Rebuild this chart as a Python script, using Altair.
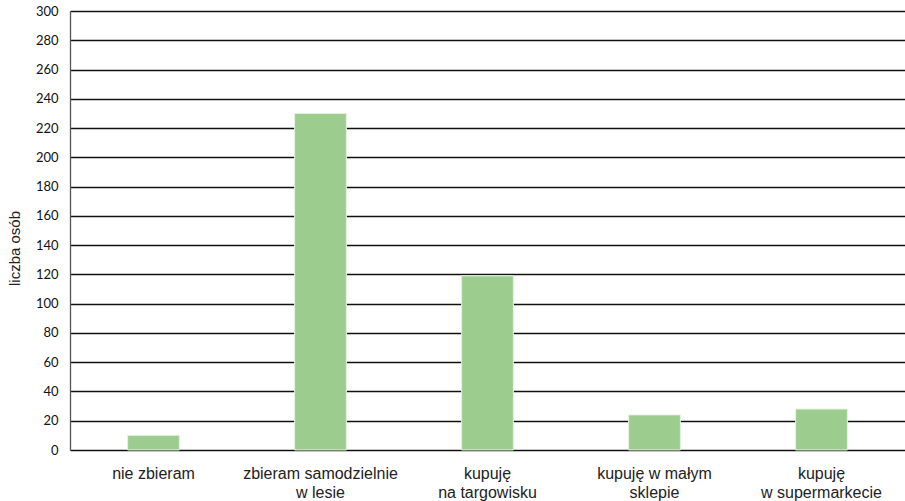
import altair as alt
import pandas as pd

# Answers (categories, two-line axis labels separated by "\n") and counts
categories = [
    "nie zbieram",
    "zbieram samodzielnie\nw lesie",
    "kupuję\nna targowisku",
    "kupuję w małym\nsklepie",
    "kupuję\nw supermarkecie",
]
counts = [10, 230, 119, 24, 28]

df = pd.DataFrame({"kategoria": categories, "liczba": counts})

bars = alt.Chart(df).mark_bar(
    color="#9ccd8e", stroke="#e6f2e2", strokeWidth=1
).encode(
    x=alt.X(
        "kategoria:N",
        sort=categories,
        title=None,
        scale=alt.Scale(paddingInner=0.69, paddingOuter=0.345),
        axis=alt.Axis(
            labelAngle=0,
            labelExpr="split(datum.label, '\\n')",
            labelFont="Liberation Sans",
            labelFontSize=16,
            labelColor="#222222",
            labelLineHeight=19,
            labelPadding=15,
            ticks=False,
            domain=False,
            grid=False,
        ),
    ),
    y=alt.Y(
        "liczba:Q",
        title="liczba osób",
        scale=alt.Scale(domain=[0, 300], nice=False),
        axis=alt.Axis(
            values=list(range(0, 301, 20)),
            labelFont="Lato",
            labelFontSize=13,
            labelColor="#111111",
            labelPadding=12,
            ticks=False,
            domainColor="#555555",
            domainWidth=1.3,
            gridColor="#111111",
            gridWidth=1.3,
            titleFont="Liberation Sans",
            titleFontSize=15,
            titleFontWeight="normal",
            titleColor="#222222",
            titlePadding=13,
            titleY=237,
        ),
    ),
).properties(
    width=835,
    height=439,
    autosize=alt.AutoSizeParams(type="none"),
    padding={"left": 70, "top": 11, "right": 0, "bottom": 51},
).configure_view(stroke=None).configure(background="white")

bars.save("out.html", embed_options={"renderer": "svg", "actions": False})
